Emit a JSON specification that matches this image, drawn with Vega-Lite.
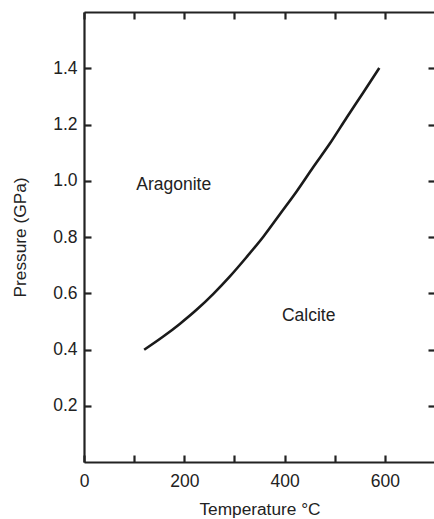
{
  "$schema": "https://vega.github.io/schema/vega-lite/v6.json",
  "autosize": {"type": "none"},
  "padding": {"left": 84, "top": 12, "right": 0, "bottom": 57},
  "width": 351,
  "height": 450,
  "background": "white",
  "config": {
    "view": {"stroke": null},
    "font": "Liberation Sans",
    "axis": {
      "grid": false,
      "domainColor": "#222",
      "domainWidth": 2.2,
      "tickColor": "#222",
      "tickWidth": 2.2,
      "tickSize": -7,
      "labelFont": "Liberation Sans",
      "labelFontSize": 17.5,
      "labelColor": "#222",
      "titleFont": "Liberation Sans",
      "titleFontSize": 17.3,
      "titleFontWeight": "normal",
      "titleColor": "#222"
    }
  },
  "datasets": {
    "curve": [
      {"T": 120, "P": 0.399},
      {"T": 158, "P": 0.446},
      {"T": 191, "P": 0.491},
      {"T": 225, "P": 0.542},
      {"T": 258, "P": 0.598},
      {"T": 291, "P": 0.660},
      {"T": 324, "P": 0.728},
      {"T": 358, "P": 0.802},
      {"T": 391, "P": 0.882},
      {"T": 424, "P": 0.962},
      {"T": 457, "P": 1.048},
      {"T": 491, "P": 1.134},
      {"T": 524, "P": 1.225},
      {"T": 557, "P": 1.314},
      {"T": 589, "P": 1.401}
    ],
    "labels": [
      {"T": 179, "P": 0.986, "name": "Aragonite"},
      {"T": 448, "P": 0.519, "name": "Calcite"}
    ]
  },
  "layer": [
    {
      "data": {"name": "curve"},
      "mark": {"type": "line", "color": "#1a1a1a", "strokeWidth": 2.6, "interpolate": "monotone"},
      "encoding": {
        "x": {
          "field": "T", "type": "quantitative",
          "scale": {"domain": [0, 700], "nice": false, "zero": false},
          "axis": {
            "orient": "bottom",
            "title": "Temperature °C",
            "values": [0, 100, 200, 300, 400, 500, 600, 700],
            "labelExpr": "datum.value % 200 === 0 ? datum.label : ''",
            "labelFlush": false,
            "labelPadding": 17,
            "titlePadding": 11
          }
        },
        "y": {
          "field": "P", "type": "quantitative",
          "scale": {"domain": [0, 1.6], "nice": false, "zero": false},
          "axis": {
            "orient": "left",
            "title": "Pressure (GPa)",
            "values": [0.2, 0.4, 0.6, 0.8, 1.0, 1.2, 1.4],
            "format": ".1f",
            "labelPadding": 14,
            "titlePadding": 23
          }
        }
      }
    },
    {
      "data": {"name": "labels"},
      "mark": {"type": "text", "font": "Liberation Sans", "fontSize": 17.5, "color": "#222", "align": "center", "baseline": "middle"},
      "encoding": {
        "x": {
          "field": "T", "type": "quantitative",
          "axis": {
            "orient": "top",
            "title": null,
            "values": [0, 100, 200, 300, 400, 500, 600, 700],
            "labels": false
          }
        },
        "y": {
          "field": "P", "type": "quantitative",
          "axis": {
            "orient": "right",
            "title": null,
            "values": [0.2, 0.4, 0.6, 0.8, 1.0, 1.2, 1.4],
            "labels": false
          }
        },
        "text": {"field": "name"}
      }
    }
  ],
  "resolve": {"axis": {"x": "independent", "y": "independent"}}
}
